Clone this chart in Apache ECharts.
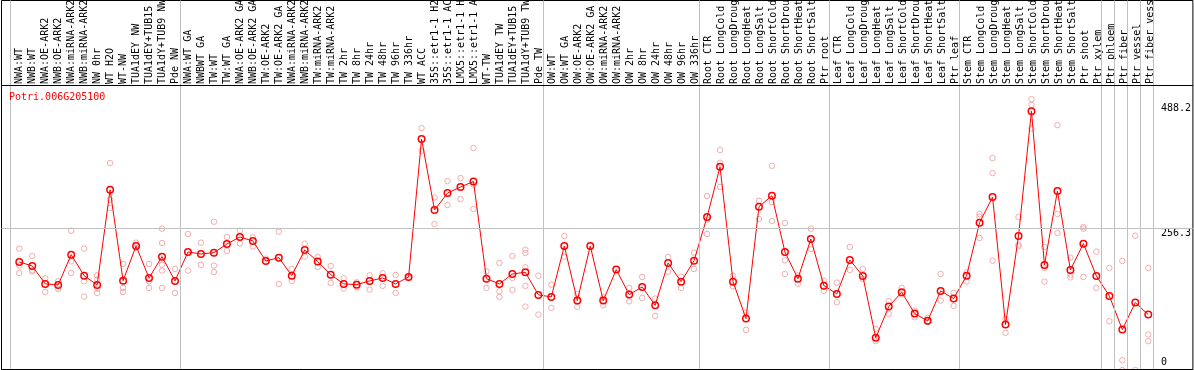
<!DOCTYPE html>
<html>
<head>
<meta charset="utf-8">
<script src="https://cdn.jsdelivr.net/npm/echarts@6/dist/echarts.min.js"></script>
<style>
html, body { margin: 0; padding: 0; background: #fff; }
#chart { width: 1194px; height: 370px; }
</style>
</head>
<body>
<div id="chart"></div>
<script>
const geneId = 'Potri.006G205100';

const categories = [
  'NWA:WT', 'NWB:WT', 'NWA:OE-ARK2', 'NWB:OE-ARK2', 'NWA:miRNA-ARK2', 'NWB:miRNA-ARK2', 'NW 0hr', 'WT H2O', 'WT-NW', 'TUA1dEY NW', 'TUA1dEY+TUB15', 'TUA1dY+TUB9 NW', 'Pde NW',
  'NWA:WT GA', 'NWBWT GA', 'TW:WT', 'TW:WT GA', 'NWA:OE-ARK2 GA', 'NWB:OE-ARK2 GA', 'TW:OE-ARK2', 'TW:OE-ARK2 GA', 'NWA:miRNA-ARK2', 'NWB:miRNA-ARK2', 'TW:miRNA-ARK2', 'TW:miRNA-ARK2', 'TW 2hr', 'TW 8hr', 'TW 24hr', 'TW 48hr', 'TW 96hr', 'TW 336hr', 'WT ACC', '35S::etr1-1 H2O', '35S::etr1-1 ACC', 'LMX5::etr1-1 H2O', 'LMX5::etr1-1 ACC', 'WT-TW', 'TUA1dEY TW', 'TUA1dEY+TUB15', 'TUA1dY+TUB9 TW', 'Pde TW',
  'OW:WT', 'OW:WT GA', 'OW:OE-ARK2', 'OW:OE-ARK2 GA', 'OW:miRNA-ARK2', 'OW:miRNA-ARK2', 'OW 2hr', 'OW 8hr', 'OW 24hr', 'OW 48hr', 'OW 96hr', 'OW 336hr',
  'Root CTR', 'Root LongCold', 'Root LongDrought', 'Root LongHeat', 'Root LongSalt', 'Root ShortCold', 'Root ShortDrought', 'Root ShortHeat', 'Root ShortSalt', 'Ptr root',
  'Leaf CTR', 'Leaf LongCold', 'Leaf LongDrought', 'Leaf LongHeat', 'Leaf LongSalt', 'Leaf ShortCold', 'Leaf ShortDrought', 'Leaf ShortHeat', 'Leaf ShortSalt', 'Ptr leaf',
  'Stem CTR', 'Stem LongCold', 'Stem LongDrought', 'Stem LongHeat', 'Stem LongSalt', 'Stem ShortCold', 'Stem ShortDrought', 'Stem ShortHeat', 'Stem ShortSalt', 'Ptr shoot', 'Ptr xylem',
  'Ptr phloem', 'Ptr fiber', 'Ptr vessel', 'Ptr fiber vessel'
];

const groupSizes = [13, 28, 12, 10, 10, 11, 1, 1, 1, 1];

const meanValues = [
  194.8, 187.6, 155.2, 153.4, 208.0, 170.1, 153.4, 325.0, 161.1, 223.6, 166.0, 204.4, 160.6,
  212.8, 209.2, 211.6, 227.2, 239.8, 232.6, 196.6, 202.6, 170.1, 216.4, 195.4, 171.9, 155.2, 153.9, 160.6, 166.0, 155.2, 167.8, 416.3, 288.4, 319.0, 329.9, 339.9, 164.7, 155.2, 173.2, 176.1, 135.4,
  131.8, 223.6, 125.1, 223.6, 125.1, 181.0, 135.9, 149.8, 116.7, 193.0, 159.3, 197.2,
  275.8, 366.4, 159.3, 92.7, 294.4, 314.2, 212.8, 164.7, 236.2, 152.1,
  137.2, 198.4, 169.6, 58.0, 114.3, 140.1, 101.7, 88.6, 142.6, 128.7,
  170.1, 265.6, 311.8, 81.9, 241.6, 466.7, 189.4, 322.7, 180.4, 227.8, 169.6,
  133.6, 72.9, 121.5, 99.9
];

const replicateValues = [
  [218.8, 188.2, 175.0], [205.6, 179.7, 177.9], [165.3, 140.8], [159.9, 146.2], [251.2, 195.9, 175.0],
  [218.8, 159.9, 132.3], [170.7, 162.9, 146.7, 139.0], [373.1, 307.0, 292.0], [191.2, 148.0, 140.8], [229.6, 220.0],
  [191.2, 159.9, 148.0], [254.8, 229.0, 190.0, 179.2, 148.0], [182.2, 139.0],
  [245.2, 179.2], [229.6, 189.4], [267.4, 188.2, 176.8], [239.8, 214.6], [251.2, 228.3], [239.1, 222.9], [200.8],
  [249.4, 155.2], [182.2, 160.6], [227.8, 204.4], [203.8, 185.8], [187.6, 157.0], [165.3, 146.7], [158.1, 149.1],
  [170.7, 144.9], [174.3, 151.6], [171.4, 139.0], [166.0], [436.1, 395.2], [311.1, 263.2], [340.7, 297.4],
  [346.1, 308.2], [400.1, 334.0, 290.2], [177.9, 148.0], [193.0, 141.9, 131.8], [205.6, 166.0, 144.4],
  [217.0, 211.0, 185.1, 151.6, 114.3], [170.1, 99.9],
  [153.9, 112.0], [241.6, 204.4], [137.2, 113.8], [], [131.1, 116.7], [], [148.0, 123.9], [167.8, 130.0],
  [128.7, 97.6], [203.8, 177.3], [168.3, 148.0], [211.6, 182.2],
  [313.6, 271.0, 245.2], [396.5, 373.6, 329.9], [170.1, 150.9], [103.5, 72.4], [305.2, 272.2],
  [368.2, 302.8, 268.6], [265.0, 197.7, 173.2], [170.7, 155.7], [254.8, 218.2], [161.1, 142.6],
  [157.5, 122.1], [221.8, 180.4], [182.2, 164.2], [74.2, 51.9], [123.9, 101.2], [148.0, 135.9],
  [107.1, 95.1], [94.0, 86.8], [173.2, 125.1], [139.0, 115.6],
  [176.1, 159.9], [281.2, 276.4, 238.0], [382.1, 355.1, 197.2], [92.2, 67.0], [275.8, 226.0, 222.9],
  [488.2, 478.0, 435.4], [221.8, 184.0, 159.3], [441.5, 281.2, 247.0], [202.6, 171.9, 167.1],
  [257.8, 254.8, 167.8], [213.4, 148.0],
  [184.0, 87.9], [196.6, 17.6, 0], [242.2, 0], [184.0, 63.9, 51.9]
];

const yTickValues = [0, 256.3, 488.2];
const yGridValue = 256.3;

// ---- layout constants (pixels / axis extents) ----
const CAT_W = 13;            // px per category
const FIRST_X = 19.3;        // px of first category center
const GRID_LEFT = 1.5;
const GRID_RIGHT_X = 1195;
const Y_MAX = 666.2;         // value at top edge (y = 0.5)
const PLOT_TOP_VALUE = 513.1; // value at the header/plot divider line
const PLOT_BOTTOM_VALUE = 1.8;

const xMin = (GRID_LEFT - FIRST_X) / CAT_W;
const xMax = (GRID_RIGHT_X - FIRST_X) / CAT_W;

// group boundaries (category index of each group start + end)
const groupStarts = [0];
groupSizes.forEach(s => groupStarts.push(groupStarts[groupStarts.length - 1] + s));
const separatorPositions = groupStarts.map((s, k) => s - (k === 0 ? 0.72 : 0.6));

const meanData = meanValues.map((v, i) => [i, v]);
const repData = [];
replicateValues.forEach((arr, i) => arr.forEach(v => repData.push([i, v])));

const chart = echarts.init(document.getElementById('chart'), null, { renderer: 'canvas' });

const MONO = "'DejaVu Sans Mono', 'Liberation Mono', monospace";

const option = {
  animation: false,
  backgroundColor: '#fff',
  title: {
    text: geneId,
    left: 9,
    top: 92,
    padding: 0,
    textStyle: { fontFamily: MONO, fontSize: 10, fontWeight: 'normal', color: '#ff0000' }
  },
  grid: [
    { left: GRID_LEFT, right: -1, top: 0.5, bottom: -0.5, show: true, borderColor: '#000', borderWidth: 1, backgroundColor: 'transparent' },
    { left: FIRST_X - CAT_W / 2, width: CAT_W * categories.length, top: 85, height: 1, show: false }
  ],
  xAxis: [
    {
      type: 'value', gridIndex: 0, min: xMin, max: xMax,
      show: false
    },
    {
      type: 'category', gridIndex: 1, position: 'top', data: categories, boundaryGap: true,
      axisLine: { show: false }, axisTick: { show: false }, splitLine: { show: false },
      axisLabel: {
        interval: 0, rotate: 90, margin: 2,
        fontFamily: MONO, fontSize: 10, color: '#000'
      }
    }
  ],
  yAxis: [
    {
      type: 'value', gridIndex: 0, min: 0, max: Y_MAX, position: 'right', offset: -(GRID_RIGHT_X - 1156),
      axisLine: { show: false }, axisTick: { show: false }, splitLine: { show: false },
      axisLabel: {
        customValues: yTickValues,
        showMinLabel: true, showMaxLabel: true,
        margin: 7, fontFamily: MONO, fontSize: 10, color: '#000', verticalAlign: 'middle',
        formatter: function (v) {
          if (v === 0) return '{c|0}';
          if (v === 488.2) return '{b|488.2}';
          return '{a|' + v + '}';
        },
        rich: {
          a: { fontFamily: MONO, fontSize: 10, color: '#000', padding: [11, 0, 0, 0] },
          b: { fontFamily: MONO, fontSize: 10, color: '#000', padding: [18, 0, 0, 0] },
          c: { fontFamily: MONO, fontSize: 10, color: '#000', padding: [0, 0, 15, 0] }
        }
      }
    },
    { type: 'value', gridIndex: 1, show: false }
  ],
  series: [
    {
      name: 'frame',
      type: 'line',
      xAxisIndex: 0, yAxisIndex: 0,
      data: [],
      z: 1,
      silent: true,
      markLine: {
        silent: true,
        symbol: ['none', 'none'],
        label: { show: false },
        animation: false,
        data: separatorPositions.map(x => ({ xAxis: x, lineStyle: { color: '#c0c0c0', width: 1, type: 'solid' } }))
          .concat([
            { yAxis: yGridValue, lineStyle: { color: '#c0c0c0', width: 1, type: 'solid' } },
            { yAxis: PLOT_TOP_VALUE, lineStyle: { color: '#000', width: 1, type: 'solid' } },
            { yAxis: PLOT_BOTTOM_VALUE, lineStyle: { color: '#000', width: 1, type: 'solid' } }
          ])
      }
    },
    {
      name: 'replicates',
      type: 'scatter',
      xAxisIndex: 0, yAxisIndex: 0,
      data: repData,
      clip: false,
      symbol: 'circle',
      symbolSize: 5.5,
      itemStyle: { color: 'rgba(0,0,0,0)', borderColor: '#f09a9a', borderWidth: 1 },
      z: 2,
      silent: true
    },
    {
      name: 'mean',
      type: 'line',
      xAxisIndex: 0, yAxisIndex: 0,
      data: meanData,
      symbol: 'circle',
      symbolSize: 6.5,
      showAllSymbol: true,
      lineStyle: { color: '#ff0000', width: 1 },
      itemStyle: { color: 'rgba(0,0,0,0)', borderColor: '#ff0000', borderWidth: 1.5 },
      z: 3,
      silent: true
    }
  ]
};

chart.setOption(option);
</script>
</body>
</html>
